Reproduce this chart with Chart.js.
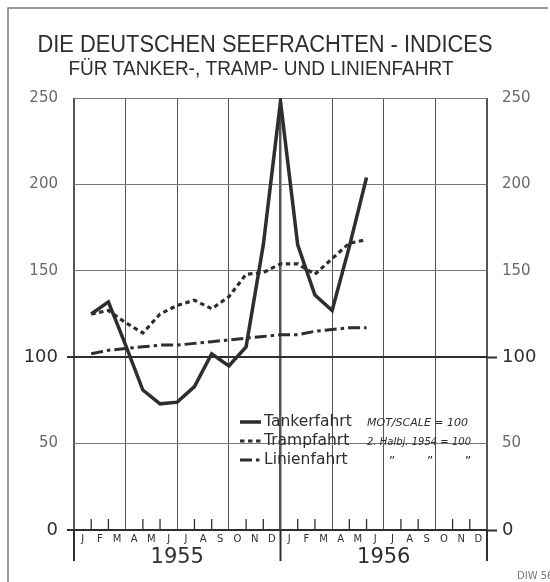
<!DOCTYPE html>
<html>
<head>
<meta charset="utf-8">
<script src="https://cdn.jsdelivr.net/npm/chart.js@4"></script>
<style>
  body { margin: 0; background: #fff; }
  canvas { display: block; }
</style>
</head>
<body>
<canvas id="freightChart" width="550" height="582"></canvas>
<script>
// month labels (two years), year labels
const monthLabels = ["J", "F", "M", "A", "M", "J", "J", "A", "S", "O", "N", "D",
                     "J", "F", "M", "A", "M", "J", "J", "A", "S", "O", "N", "D"];
const yearLabels = ["1955", "1956"];

// index values, one per month end (Jan 1955 .. May 1956)
const tankerValues = [125, 132, 107, 81, 73, 74, 83, 102, 95, 106, 165, 248, 165, 136, 127, 164, 204];
const trampValues  = [125, 127, 120, 114, 125, 130, 133, 128, 135, 148, 149, 154, 154, 148, 157, 166, 168];
const linienValues = [102, 104, 105, 106, 107, 107, 108, 109, 110, 111, 112, 113, 113, 115, 116, 117, 117];

const titleText = "DIE DEUTSCHEN SEEFRACHTEN - INDICES";
const subtitleText = "FÜR TANKER-, TRAMP- UND LINIENFAHRT";

const ink = "#2e2e2e";
const grey = "#6a6a6a";

function toPoints(values) {
    // value i belongs to the end of month i+1
    return values.map((v, i) => ({ x: i + 1, y: v }));
}

const tickVal = c => (c.tick ? c.tick.value : NaN);
const strongY = c => tickVal(c) === 0 || tickVal(c) === 100;

// ✅ extra drawing: headings, month ticks, long separators, legend box, signature, frame
const decorations = {
    id: "decorations",
    afterDraw(chart) {
        const ctx = chart.ctx;
        const x = chart.scales.x;
        const area = chart.chartArea;
        ctx.save();

        // headings (slightly condensed like the print)
        ctx.fillStyle = ink;
        ctx.textAlign = "center";
        ctx.textBaseline = "middle";
        ctx.font = "23.5px 'Liberation Sans'";
        ctx.fillText(titleText, 265, 46, 455);
        ctx.font = "19.5px 'Liberation Sans'";
        ctx.fillText(subtitleText, 261, 70, 385);

        ctx.strokeStyle = ink;
        // small month ticks rising from the zero line
        ctx.lineWidth = 1.3;
        for (let m = 1; m < 24; m++) {
            if (m % 3 === 0) continue;
            const px = x.getPixelForValue(m);
            ctx.beginPath();
            ctx.moveTo(px, area.bottom);
            ctx.lineTo(px, area.bottom - 11);
            ctx.stroke();
        }

        // separators below the axis (start, year change, end)
        ctx.lineWidth = 2;
        [0, 12, 24].forEach(m => {
            const px = x.getPixelForValue(m);
            ctx.beginPath();
            ctx.moveTo(px, area.bottom);
            ctx.lineTo(px, area.bottom + 31);
            ctx.stroke();
        });

        // legend
        const lx = 240, rows = [422, 441, 460];
        ctx.textAlign = "left";
        chart.data.datasets.forEach((ds, i) => {
            const y = rows[i];
            ctx.lineWidth = ds.borderWidth;
            ctx.setLineDash(ds.borderDash || []);
            ctx.beginPath();
            ctx.moveTo(lx, y);
            ctx.lineTo(lx + 21, y);
            ctx.stroke();
            ctx.setLineDash([]);
            ctx.font = "15.5px 'DejaVu Sans'";
            ctx.fillText(ds.label, lx + 24, y);
        });
        ctx.font = "italic 11px 'DejaVu Sans'";
        ctx.fillText("MOT/SCALE = 100", 367, rows[0] + 1, 104);
        ctx.fillText("2. Halbj. 1954 = 100", 367, rows[1] + 1, 104);
        ctx.font = "12px 'DejaVu Sans'";
        ctx.textAlign = "center";
        ["\u201D", "\u201D", "\u201D"].forEach((d, i) => ctx.fillText(d, 392 + i * 38, rows[2] + 2));

        // signature
        ctx.fillStyle = "#777";
        ctx.font = "10px 'DejaVu Sans'";
        ctx.textAlign = "left";
        ctx.fillText("DIW 56", 517, 576);

        // frame of the sheet
        ctx.strokeStyle = "#777";
        ctx.lineWidth = 1.5;
        ctx.beginPath();
        ctx.moveTo(8, 582);
        ctx.lineTo(8, 8);
        ctx.lineTo(548, 8);
        ctx.stroke();
        ctx.restore();
    }
};

new Chart(document.getElementById("freightChart"), {
    type: "line",
    data: {
        datasets: [{
            label: "Tankerfahrt",
            data: toPoints(tankerValues),
            borderColor: ink,
            borderWidth: 3.5
        }, {
            label: "Trampfahrt",
            data: toPoints(trampValues),
            borderColor: ink,
            borderWidth: 3.2,
            borderDash: [4.5, 3.5]
        }, {
            label: "Linienfahrt",
            data: toPoints(linienValues),
            borderColor: ink,
            borderWidth: 3,
            borderDash: [12, 4, 3.5, 4]
        }]
    },
    options: {
        responsive: false,
        animation: false,
        layout: { padding: { top: 98, right: 0, left: 0, bottom: 0 } },
        elements: { point: { radius: 0 }, line: { tension: 0 } },
        plugins: {
            legend: { display: false },
            tooltip: { enabled: false }
        },
        scales: {
            x: {
                type: "linear",
                min: 0,
                max: 24,
                weight: 0,
                ticks: { display: false, stepSize: 1 },
                border: { display: false },
                grid: {
                    drawTicks: false,
                    color: c => (tickVal(c) % 3 === 0 ? "#555" : "rgba(0,0,0,0)"),
                    lineWidth: c => ([0, 24].includes(tickVal(c)) ? 2 : tickVal(c) === 12 ? 2.5 : 1)
                },
                afterFit: s => { s.height = 0; }
            },
            months: {
                type: "category",
                labels: monthLabels,
                position: "bottom",
                offset: true,
                weight: 1,
                border: { display: false },
                grid: { display: false, drawTicks: false },
                ticks: {
                    autoSkip: false, maxRotation: 0, padding: 3,
                    color: ink,
                    font: { family: "'DejaVu Sans'", size: 10 }
                },
                afterFit: s => { s.height = 15; }
            },
            years: {
                type: "category",
                labels: yearLabels,
                position: "bottom",
                offset: true,
                weight: 2,
                border: { display: false },
                grid: { display: false, drawTicks: false },
                ticks: {
                    maxRotation: 0, padding: 0,
                    color: ink,
                    font: { family: "'DejaVu Sans'", size: 21 }
                },
                afterFit: s => { s.height = 37; }
            },
            y: {
                position: "left",
                min: 0,
                max: 250,
                border: { display: false },
                ticks: {
                    stepSize: 50,
                    padding: 9,
                    color: c => (strongY(c) ? ink : grey),
                    font: c => ({ family: "'DejaVu Sans'", size: strongY(c) ? 18 : 15 })
                },
                grid: {
                    tickLength: 7,
                    color: c => (strongY(c) ? ink : "#777"),
                    lineWidth: c => (strongY(c) ? 2 : 1),
                    tickColor: c => (strongY(c) ? ink : "rgba(0,0,0,0)"),
                    tickWidth: 2
                },
                afterFit: s => { s.width = 74; }
            },
            y2: {
                position: "right",
                min: 0,
                max: 250,
                border: { display: false },
                ticks: {
                    stepSize: 50,
                    padding: 5,
                    color: c => (strongY(c) ? ink : grey),
                    font: c => ({ family: "'DejaVu Sans'", size: strongY(c) ? 18 : 15 })
                },
                grid: {
                    drawOnChartArea: false,
                    tickLength: 10,
                    tickColor: c => (strongY(c) ? ink : "rgba(0,0,0,0)"),
                    tickWidth: 2
                },
                afterFit: s => { s.width = 63; }
            }
        }
    },
    plugins: [decorations]
});
</script>
</body>
</html>
